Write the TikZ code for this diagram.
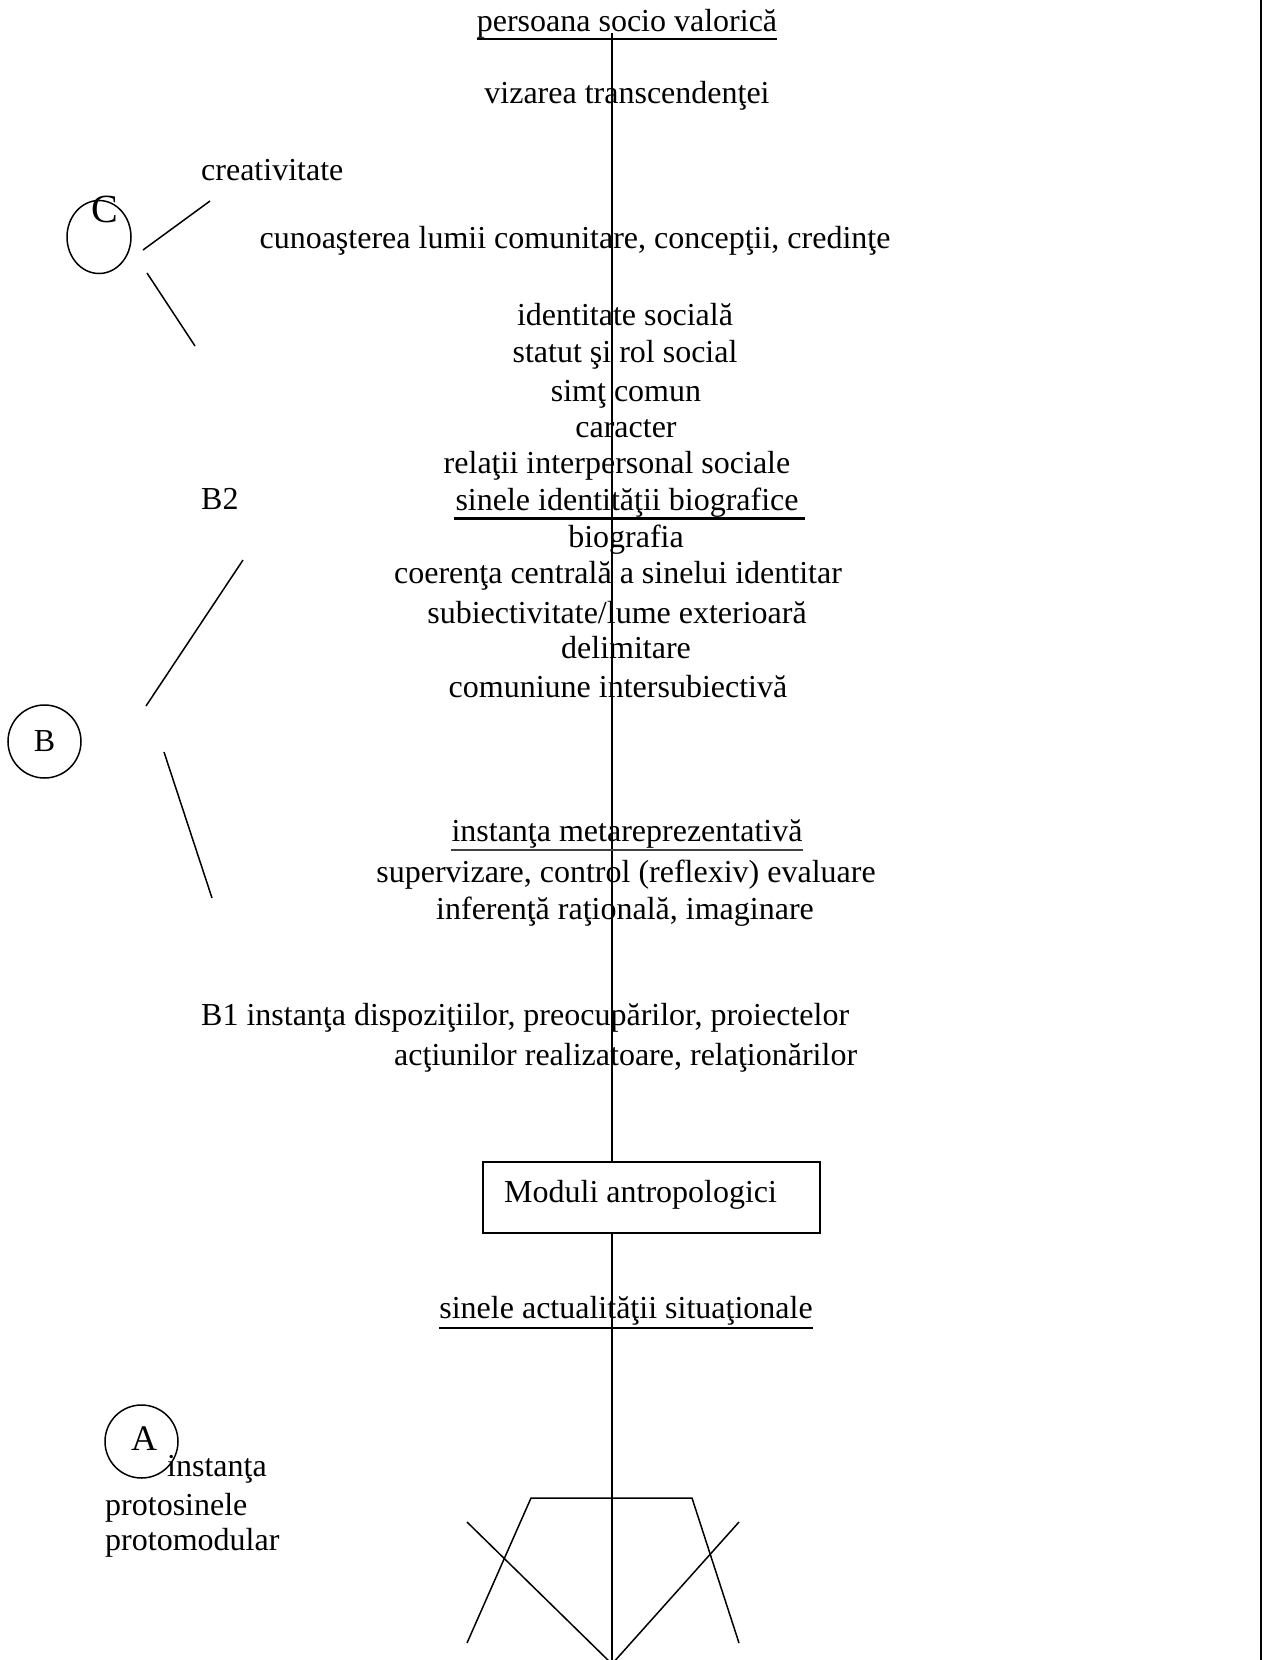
\documentclass[tikz,border=0pt]{standalone}
\usepackage{fontspec}
\setmainfont{Liberation Serif}
\usetikzlibrary{shapes.geometric}
\begin{document}
\begin{tikzpicture}[x=1pt,y=-1pt,
  txt/.style={inner sep=0pt, anchor=base, font=\fontsize{32}{38}\selectfont},
  txtl/.style={txt, anchor=base west},
  ln/.style={line width=1.5pt},
  ul/.style={line width=1.5pt},
  ulthick/.style={line width=3pt}]
\useasboundingbox (0,0) rectangle (1265,1660);
\fill[white] (0,0) rectangle (1265,1660);

% right border
\coordinate (rt) at (1261,0);
\coordinate (rb) at (1261,1660);
\draw[line width=2pt] (rt) -- (rb);

% central axis and box
\coordinate (vtop) at (612,33);
\coordinate (vbot) at (612,1660);
\node[draw, ln, fill=white, minimum width=337pt, minimum height=71pt, inner sep=0pt] (box) at (651.5,1197.5) {};
\node[txtl] (boxtxt) at (504,1202) {Moduli antropologici};
\draw[ln] (vtop) -- (vtop |- box.north);
\draw[ln] (vtop |- box.south) -- (vbot);

% texts
\node[txt] (t1) at (627,31) {persoana socio valorică};
\draw[ul] ([yshift=-8pt]t1.base west) -- ([yshift=-8pt]t1.base east);
\node[txt] (t2) at (627,103) {vizarea transcendenţei};
\node[txtl] (creat) at (201,180) {creativitate};
\node[txt] (t3) at (575,248) {cunoaşterea lumii comunitare, concepţii, credinţe};
\node[txt] (t4) at (625,325) {identitate socială};
\node[txt] (t5) at (625,362) {statut şi rol social};
\node[txt] (t6) at (626,401) {simţ comun};
\node[txt] (t7) at (626,437) {caracter};
\node[txt] (t8) at (617,473) {relaţii interpersonal sociale};
\node[txtl] (b2) at (201,509) {B2};
\node[txt] (t9) at (627,510) {sinele identităţii biografice};
\draw[ulthick] ([xshift=-1pt,yshift=-8pt]t9.base west) -- ([xshift=6pt,yshift=-8pt]t9.base east);
\node[txt] (t10) at (626,547) {biografia};
\node[txt] (t11) at (618,583) {coerenţa centrală a sinelui identitar};
\node[txt] (t12) at (617,623) {subiectivitate/lume exterioară};
\node[txt] (t13) at (626,658) {delimitare};
\node[txt] (t14) at (618,697) {comuniune intersubiectivă};
\node[txt] (t15) at (627,841) {instanţa metareprezentativă};
\draw[ul, draw=black!75] ([yshift=-9pt]t15.base west) -- ([yshift=-9pt]t15.base east);
\node[txt] (t16) at (626,882) {supervizare, control (reflexiv) evaluare};
\node[txt] (t17) at (625,919) {inferenţă raţională, imaginare};
\node[txtl] (t18) at (201,1025) {B1 instanţa dispoziţiilor, preocupărilor, proiectelor};
\node[txtl] (t19) at (394,1065) {acţiunilor realizatoare, relaţionărilor};
\node[txt] (t20) at (626,1318) {sinele actualităţii situaţionale};
\draw[ul] ([yshift=-10pt]t20.base west) -- ([yshift=-10pt]t20.base east);

% C group
\node[draw, ln, ellipse, minimum width=64pt, minimum height=73pt, inner sep=0pt] (Cc) at (99,237) {};
\node[txt, font=\fontsize{40}{44}\selectfont] (Cl) at (105,222) {C};
\coordinate (c1a) at (143,250); \coordinate (c1b) at (210,201);
\coordinate (c2a) at (147,273); \coordinate (c2b) at (195,346);
\draw[ln] (c1a) -- (c1b);
\draw[ln] (c2a) -- (c2b);

% B group
\node[draw, ln, circle, minimum size=73pt, inner sep=0pt, font=\fontsize{32}{38}\selectfont] (Bc) at (44.5,741.5) {B};
\coordinate (b1a) at (243,560); \coordinate (b1b) at (146,706);
\coordinate (b2a) at (164,752); \coordinate (b2b) at (212,898);
\draw[ln] (b1a) -- (b1b);
\draw[ln] (b2a) -- (b2b);

% A group
\node[draw, ln, circle, minimum size=73pt, inner sep=0pt] (Ac) at (141.5,1441.5) {};
\node[txt, font=\fontsize{36}{40}\selectfont] (Al) at (144,1450) {A};
\node[txtl] (a1) at (167,1476) {instanţa};
\node[txtl] (a2) at (105,1515) {protosinele};
\node[txtl] (a3) at (105,1550) {protomodular};

% bottom figure
\coordinate (tr1) at (467,1643);
\coordinate (tr2) at (531,1498);
\coordinate (tr3) at (692,1498);
\coordinate (tr4) at (739,1643);
\draw[ln] (tr1) -- (tr2) -- (tr3) -- (tr4);
\coordinate (x1) at (467,1522);
\coordinate (x2) at (739,1522);
\coordinate (xapex) at (612,1664);
\draw[ln] (x1) -- (xapex) -- (x2);
\end{tikzpicture}
\end{document}
